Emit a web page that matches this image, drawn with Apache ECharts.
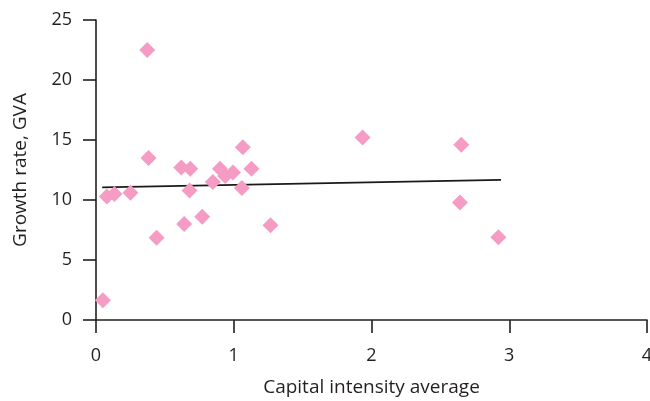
<!DOCTYPE html>
<html>
<head>
<meta charset="utf-8">
<script src="https://cdn.jsdelivr.net/npm/echarts@6/dist/echarts.min.js"></script>
<style>
  html, body { margin: 0; padding: 0; background: #fff; overflow: hidden; }
  #chart { width: 650px; height: 401px; }
</style>
</head>
<body>
<div id="chart"></div>
<script>
// Capital intensity (x) vs growth rate of GVA (y)
const capitalIntensity = [0.372, 0.381, 0.079, 0.134, 0.25, 0.44, 0.05, 0.619, 0.684, 0.679,
  0.64, 0.771, 0.848, 0.90, 0.938, 0.994, 1.066, 1.059, 1.129, 1.267,
  1.935, 2.652, 2.642, 2.921];
const growthRate = [22.5, 13.5, 10.3, 10.5, 10.6, 6.85, 1.65, 12.7, 12.6, 10.8,
  8.0, 8.6, 11.5, 12.6, 12.0, 12.3, 14.4, 11.0, 12.6, 7.9,
  15.2, 14.6, 9.8, 6.9];

// Fitted trend line end points
const trendX = [0.045, 2.94];
const trendY = [11.05, 11.68];

const xTicks = [0, 1, 2, 3, 4];
const yTicks = [0, 5, 10, 15, 20, 25];

const ink = '#231f20';
const font = 'Open Sans';

const chart = echarts.init(document.getElementById('chart'), null, { renderer: 'canvas' });
chart.setOption({
  animation: false,
  grid: { left: 96, top: 20, right: 3, bottom: 81, containLabel: false, outerBoundsMode: 'none' },
  xAxis: {
    type: 'value',
    min: xTicks[0], max: xTicks[xTicks.length - 1], interval: 1,
    name: 'Capital intensity average',
    nameLocation: 'middle', nameGap: 58,
    nameTextStyle: { color: ink, fontSize: 19, fontFamily: font },
    axisLine: { show: true, lineStyle: { color: ink, width: 1.6 } },
    axisTick: { show: true, length: 13, lineStyle: { color: ink, width: 1.6 } },
    axisLabel: { color: ink, fontSize: 18, fontFamily: font, margin: 27 },
    splitLine: { show: false }
  },
  yAxis: {
    type: 'value',
    min: yTicks[0], max: yTicks[yTicks.length - 1], interval: 5,
    name: 'Growth rate, GVA',
    nameLocation: 'middle', nameGap: 66, nameRotate: 90,
    nameTextStyle: { color: ink, fontSize: 19, fontFamily: font },
    axisLine: { show: true, lineStyle: { color: ink, width: 1.6 } },
    axisTick: { show: true, length: 13, lineStyle: { color: ink, width: 1.6 } },
    axisLabel: { color: ink, fontSize: 18, fontFamily: font, margin: 24 },
    splitLine: { show: false }
  },
  series: [
    {
      type: 'line',
      data: trendX.map((x, i) => [x, trendY[i]]),
      symbol: 'none',
      lineStyle: { color: '#1a1a1a', width: 1.6 },
      z: 1
    },
    {
      type: 'scatter',
      data: capitalIntensity.map((x, i) => [x, growthRate[i]]),
      symbol: 'diamond',
      symbolSize: [16, 16],
      itemStyle: { color: '#f49cc4', opacity: 1 },
      z: 2
    }
  ]
});
</script>
</body>
</html>
